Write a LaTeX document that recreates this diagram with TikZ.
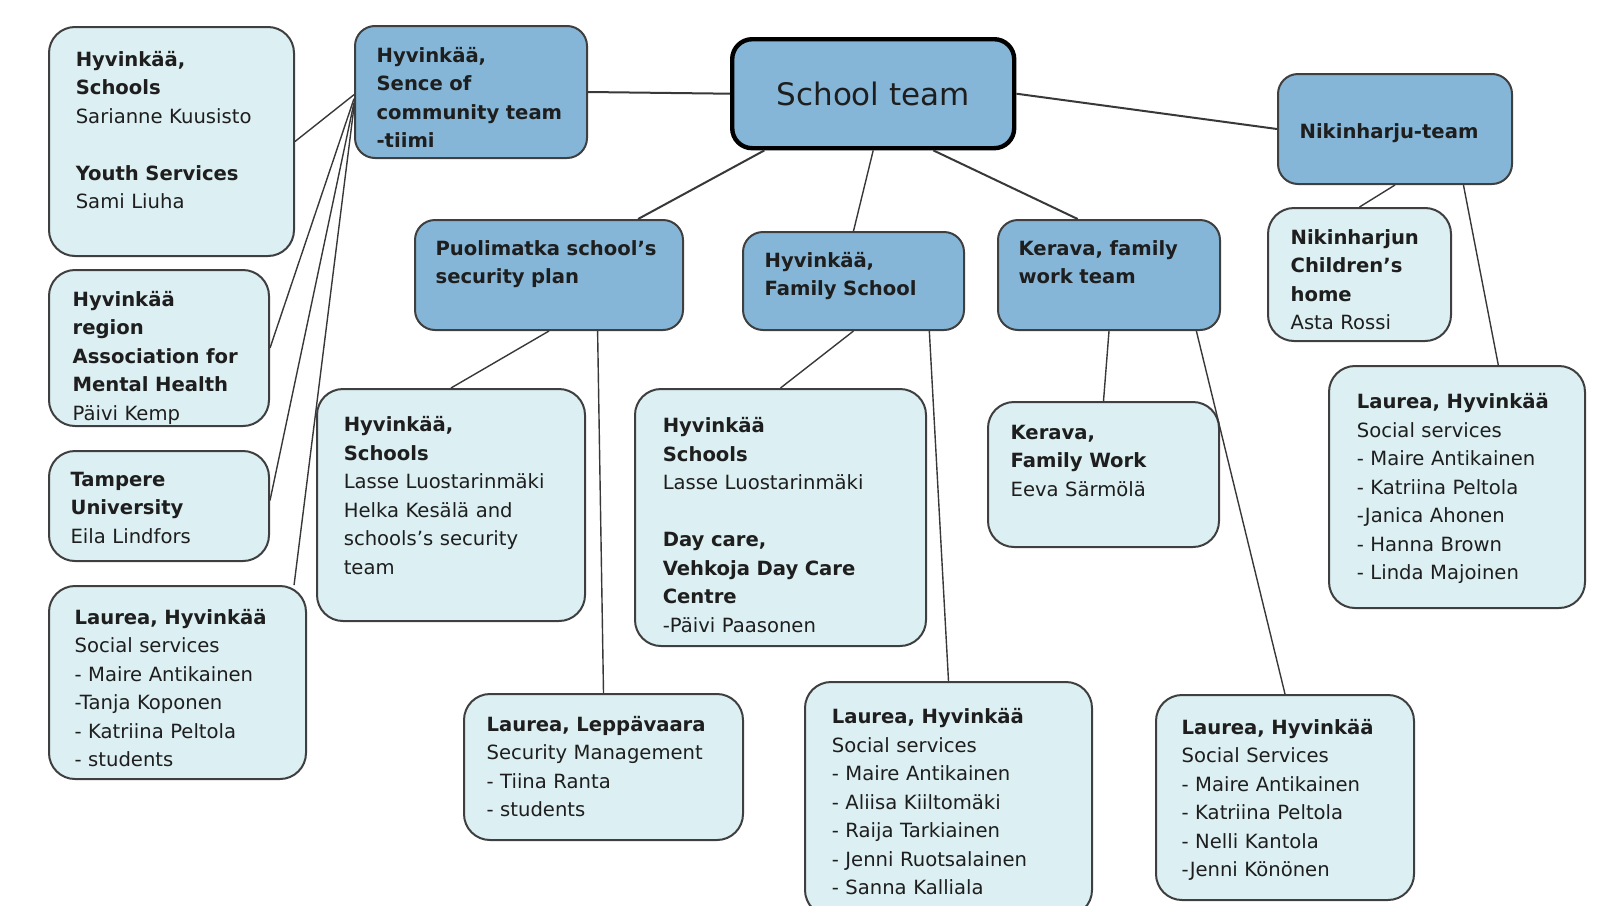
\documentclass[tikz,border=0pt]{standalone}
\usepackage{fontspec}
\setmainfont{DejaVu Sans}
\usetikzlibrary{calc}
\definecolor{teamblue}{HTML}{85B6D7}
\definecolor{memberblue}{HTML}{DCEFF2}
\definecolor{boxline}{HTML}{3F3F3F}
\definecolor{linkgray}{HTML}{383838}
\definecolor{textgray}{HTML}{1E1E1E}

\begin{document}
\begin{tikzpicture}[x=0.5pt,y=-0.5pt,
                    team/.style={draw=boxline,line width=1pt,fill=teamblue,rounded corners=10pt,anchor=north west,align=left,inner ysep=0pt,text=textgray,font=\fontsize{9.8}{14.25}\selectfont\bfseries},
                    member/.style={draw=boxline,line width=1pt,fill=memberblue,rounded corners=13pt,anchor=north west,align=left,inner ysep=0pt,text=textgray,font=\fontsize{9.8}{14.25}\selectfont},
                    link/.style={draw=linkgray,line width=0.7pt}
                ]
                    \useasboundingbox (0,0) rectangle (1610,905);
                    % centre and teams
                    \node[draw=black,line width=2.2pt,fill=teamblue,rounded corners=10pt,anchor=north west,minimum width=141pt,minimum height=54.5pt,text=textgray,font=\fontsize{15.5}{18}\selectfont] (schoolteam) at (730,37) {School team};
                    \node[team,text width=94.4pt,inner xsep=10.8pt,text height=18.2pt,text depth=47.8pt] (community) at (354,25) {Hyvinkää,\\Sence of\\community team\\-tiimi};
                    \node[team,text width=113.4pt,inner xsep=10.3pt,text height=17.7pt,text depth=37.3pt] (puolimatka) at (414,219) {Puolimatka school’s\\security plan};
                    \node[team,text width=88.9pt,inner xsep=10.8pt,text height=17.7pt,text depth=31.3pt] (familyschool) at (742,231) {Hyvinkää,\\Family School};
                    \node[team,text width=90.4pt,inner xsep=10.3pt,text height=17.7pt,text depth=37.3pt] (keravateam) at (997,219) {Kerava, family\\work team};
                    \node[team,text width=95.4pt,inner xsep=10.8pt,text height=32.1pt,text depth=22.9pt] (nikinharju) at (1277,73) {Nikinharju-team};
                    % members
                    \node[member,text width=95.7pt,inner xsep=13.4pt,text height=19.7pt,text depth=94.8pt] (hyvschools) at (48,26) {\textbf{Hyvinkää,}\\\textbf{Schools}\\Sarianne Kuusisto\\[14.25pt]\textbf{Youth Services}\\Sami Liuha};
                    \node[member,text width=86.4pt,inner xsep=11.8pt,text height=18.2pt,text depth=59.8pt] (mentalhealth) at (48,269) {\textbf{Hyvinkää}\\\textbf{region}\\\textbf{Association for}\\\textbf{Mental Health}\\Päivi Kemp};
                    \node[member,text width=88.4pt,inner xsep=10.8pt,text height=17.7pt,text depth=37.3pt] (tampere) at (48,450) {\textbf{Tampere}\\\textbf{University}\\Eila Lindfors};
                    \node[member,text width=102.9pt,inner xsep=12.8pt,text height=19.2pt,text depth=77.3pt] (laureaA) at (48,585) {\textbf{Laurea, Hyvinkää}\\Social services\\- Maire Antikainen\\-Tanja Koponen\\- Katriina Peltola\\- students};
                    \node[member,text width=107.2pt,inner xsep=13.4pt,text height=21.3pt,text depth=94.7pt] (securityteam) at (316,388) {\textbf{Hyvinkää,}\\\textbf{Schools}\\Lasse Luostarinmäki\\Helka Kesälä and\\schools’s security\\team};
                    \node[member,text width=117.7pt,inner xsep=13.9pt,text height=21.8pt,text depth=106.7pt] (daycare) at (634,388) {\textbf{Hyvinkää}\\\textbf{Schools}\\Lasse Luostarinmäki\\[14.25pt]\textbf{Day care,}\\\textbf{Vehkoja Day Care}\\\textbf{Centre}\\-Päivi Paasonen};
                    \node[member,text width=92.9pt,inner xsep=11.3pt,text height=18.7pt,text depth=53.8pt] (keravawork) at (987,401) {\textbf{Kerava,}\\\textbf{Family Work}\\Eeva Särmölä};
                    \node[member,text width=68.9pt,inner xsep=11.3pt,text height=18.2pt,text depth=48.3pt] (childrenshome) at (1267,207) {\textbf{Nikinharjun}\\\textbf{Children’s}\\\textbf{home}\\Asta Rossi};
                    \node[member,text width=100.2pt,inner xsep=13.9pt,text height=21.3pt,text depth=99.7pt] (laureaN) at (1328,365) {\textbf{Laurea, Hyvinkää}\\Social services\\- Maire Antikainen\\- Katriina Peltola\\-Janica Ahonen\\- Hanna Brown\\- Linda Majoinen};
                    \node[member,text width=116.9pt,inner xsep=11.3pt,text height=18.7pt,text depth=54.3pt] (leppavaara) at (463,693) {\textbf{Laurea, Leppävaara}\\Security Management\\- Tiina Ranta\\- students};
                    \node[member,text width=116.7pt,inner xsep=13.4pt,text height=20.8pt,text depth=96.2pt] (laureaF) at (804,681) {\textbf{Laurea, Hyvinkää}\\Social services\\- Maire Antikainen\\- Aliisa Kiiltomäki\\- Raija Tarkiainen\\- Jenni Ruotsalainen\\- Sanna Kalliala};
                    \node[member,text width=103.4pt,inner xsep=12.8pt,text height=19.7pt,text depth=82.8pt] (laureaK) at (1155,694) {\textbf{Laurea, Hyvinkää}\\Social Services\\- Maire Antikainen\\- Katriina Peltola\\- Nelli Kantola\\-Jenni Könönen};
                    % links
                    \draw[link,line width=1pt] (community.east) -- (schoolteam.west);
                    \draw[link,line width=1pt] (schoolteam.east) -- (nikinharju.west);
                    \draw[link,line width=1pt] ($(schoolteam.south west)!0.12!(schoolteam.south east)$) -- ($(puolimatka.north west)!0.83!(puolimatka.north east)$);
                    \draw[link,line width=1pt] ($(schoolteam.south west)!0.71!(schoolteam.south east)$) -- ($(keravateam.north west)!0.36!(keravateam.north east)$);
                    \foreach \a/\b in {schoolteam.south/familyschool.north,nikinharju.south/childrenshome.north,puolimatka.south/securityteam.north,familyschool.south/daycare.north,keravateam.south/keravawork.north}
                        \draw[link] (\a) -- (\b);
                    \draw[link] ($(nikinharju.south west)!0.79!(nikinharju.south east)$) -- ($(laureaN.north west)!0.66!(laureaN.north east)$);
                    \draw[link] ($(puolimatka.south west)!0.68!(puolimatka.south east)$) -- (leppavaara.north);
                    \draw[link] ($(familyschool.south west)!0.84!(familyschool.south east)$) -- (laureaF.north);
                    \draw[link] ($(keravateam.south west)!0.89!(keravateam.south east)$) -- (laureaK.north);
                    \draw[link] ($(community.north west)!0.52!(community.south west)$) -- (hyvschools.east);
                    \draw[link] ($(community.north west)!0.55!(community.south west)$) -- (mentalhealth.east);
                    \draw[link] ($(community.north west)!0.58!(community.south west)$) -- ($(tampere.north east)!0.45!(tampere.south east)$);
                    \draw[link] ($(community.north west)!0.61!(community.south west)$) -- ($(laureaA.north west)!0.95!(laureaA.north east)$);
                \end{tikzpicture}
\end{document}
